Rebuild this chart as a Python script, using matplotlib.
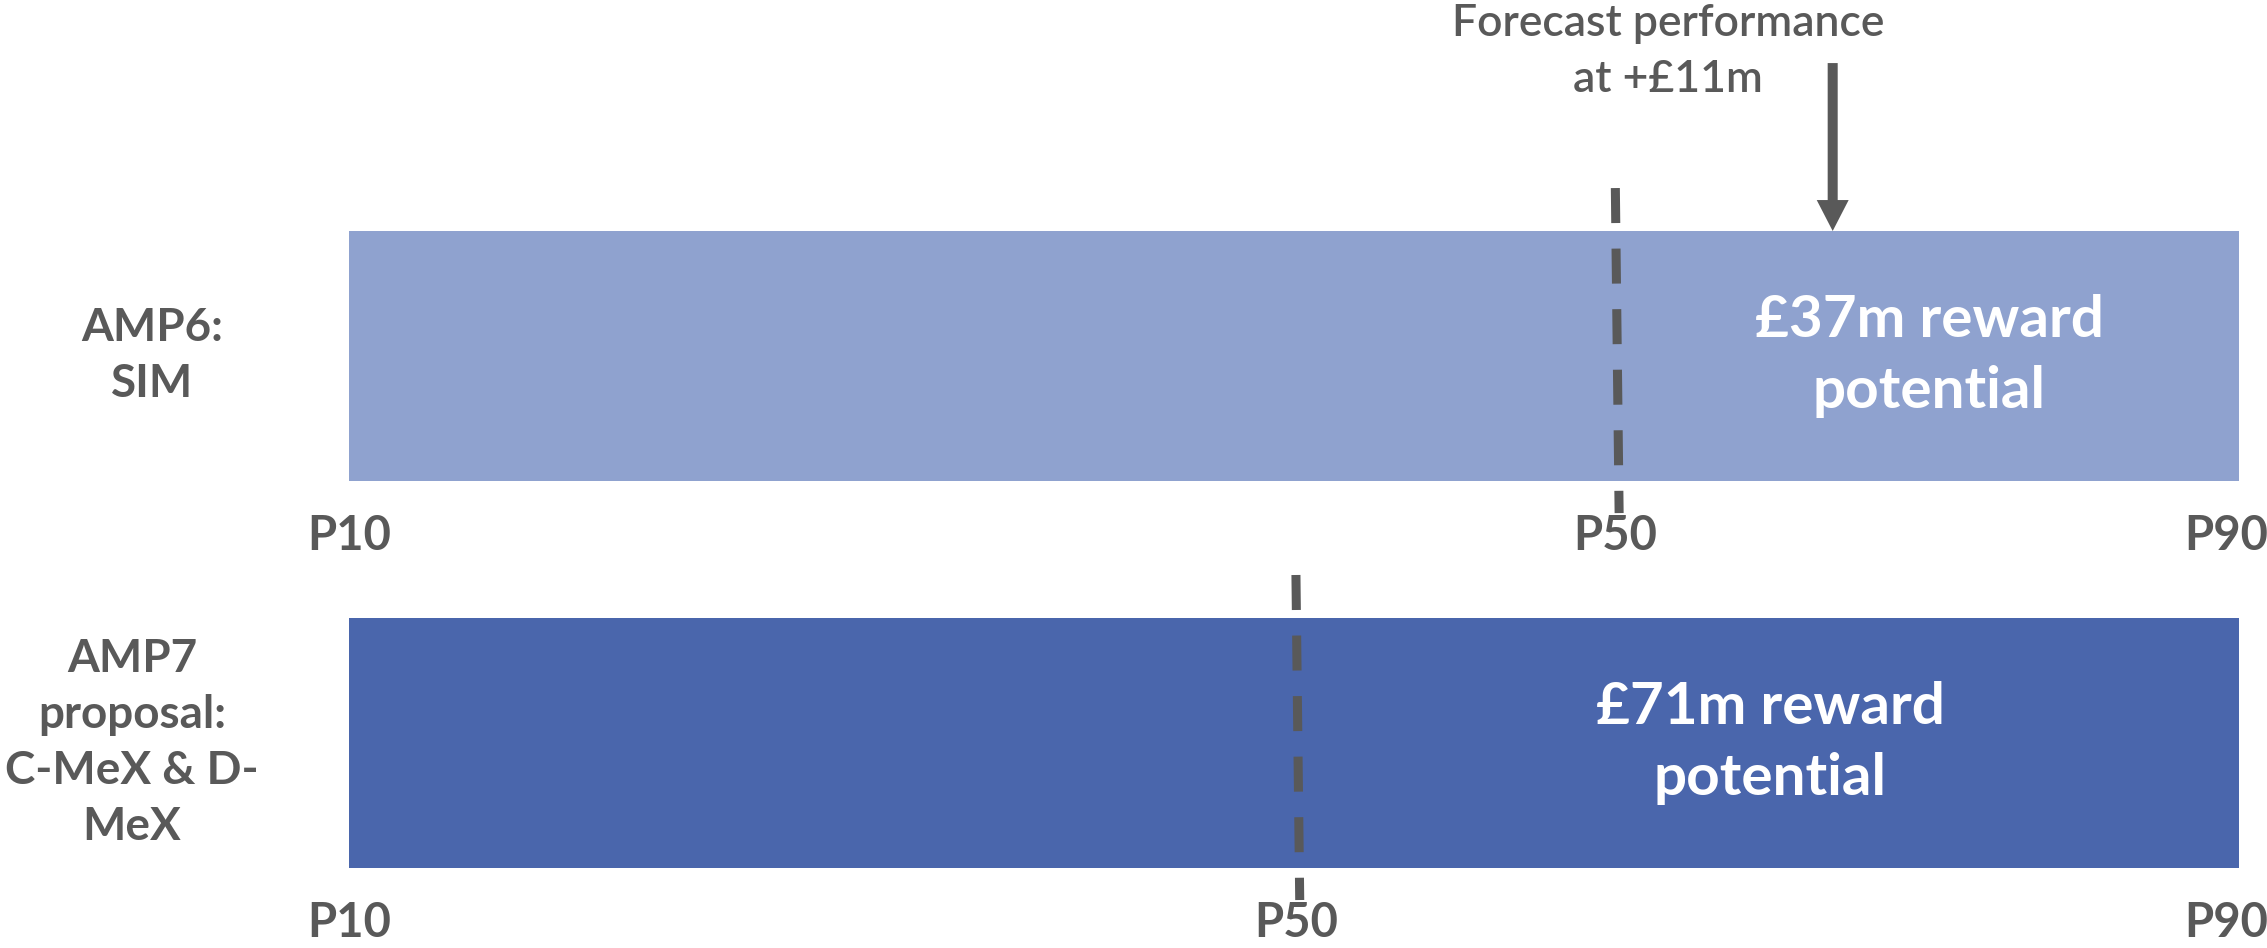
import matplotlib.pyplot as plt

# rows, top to bottom
row_labels = ['AMP6:\nSIM', 'AMP7\nproposal:\nC-MeX & D-\nMeX']
row_y = [1, 0]
bar_colors = ['#8FA2CF', '#4A66AC']
# bar spans P10 -> P90 on a 0..1 scale, P50 sits where it sits
p_labels = ['P10', 'P50', 'P90']
p10_pos = [0.0, 0.0]
p50_pos = [0.670, 0.501]
p90_pos = [1.0, 1.0]
reward_text = ['£37m reward\npotential', '£71m reward\npotential']
reward_x = [0.836, 0.752]
forecast_x = 0.785
forecast_text = 'Forecast performance\nat +£11m'

GREY = '#595959'
FONT = ['Lato', 'DejaVu Sans']
plt.rcParams['font.family'] = FONT

fig = plt.figure(figsize=(22.67, 9.48), dpi=100)
ax = fig.add_axes([0, 0, 1, 1])
ax.set_xlim(-0.1847, 1.0148)
ax.set_ylim(-0.530, 1.920)
ax.axis('off')

h = 0.646
ax.barh(row_y, [b - a for a, b in zip(p10_pos, p90_pos)], left=p10_pos,
        height=h, color=bar_colors, zorder=1)

label_x = [-0.1042, -0.1148]
for y, lab, lx in zip(row_y, row_labels, label_x):
    ax.text(lx, y, lab, ha='center', va='center', fontsize=33,
            fontweight='bold', color=GREY, linespacing=1.42)

for i, y in enumerate(row_y):
    ypos = y - h / 2 - 0.142
    for pos, lab in zip([p10_pos[i], p50_pos[i], p90_pos[i]], p_labels):
        # keep the right-hand label just inside the canvas
        dx = -9 if lab == p_labels[-1] else 0
        ax.annotate(lab, (pos, ypos), xytext=(dx, 0),
                    textcoords='offset points', ha='center', va='center',
                    fontsize=34, fontweight='bold', color=GREY)
    # dashed P50 marker, leans a touch like the original
    ax.plot([p50_pos[i], p50_pos[i] + 0.002],
            [y + h / 2 + 0.111, y - h / 2 - 0.083],
            color=GREY, lw=6.5, linestyle=(0, (25.2 / 6.5, 18.4 / 6.5)),
            solid_capstyle='butt', dash_capstyle='butt', zorder=3)
    ax.text(reward_x[i], y, reward_text[i], ha='center', va='center',
            fontsize=42, fontweight='bold', color='white', linespacing=1.42,
            zorder=4)

top = row_y[0] + h / 2
ax.arrow(forecast_x, 1.757, 0, top - 1.757, width=0.0053,
         head_width=0.0169, head_length=0.080, length_includes_head=True,
         color=GREY, lw=0, zorder=3)
ax.text(0.698, 1.786, forecast_text, ha='center', va='center',
        fontsize=32, fontweight='semibold', color=GREY, linespacing=1.45)

fig.savefig('out.png', dpi=100)
